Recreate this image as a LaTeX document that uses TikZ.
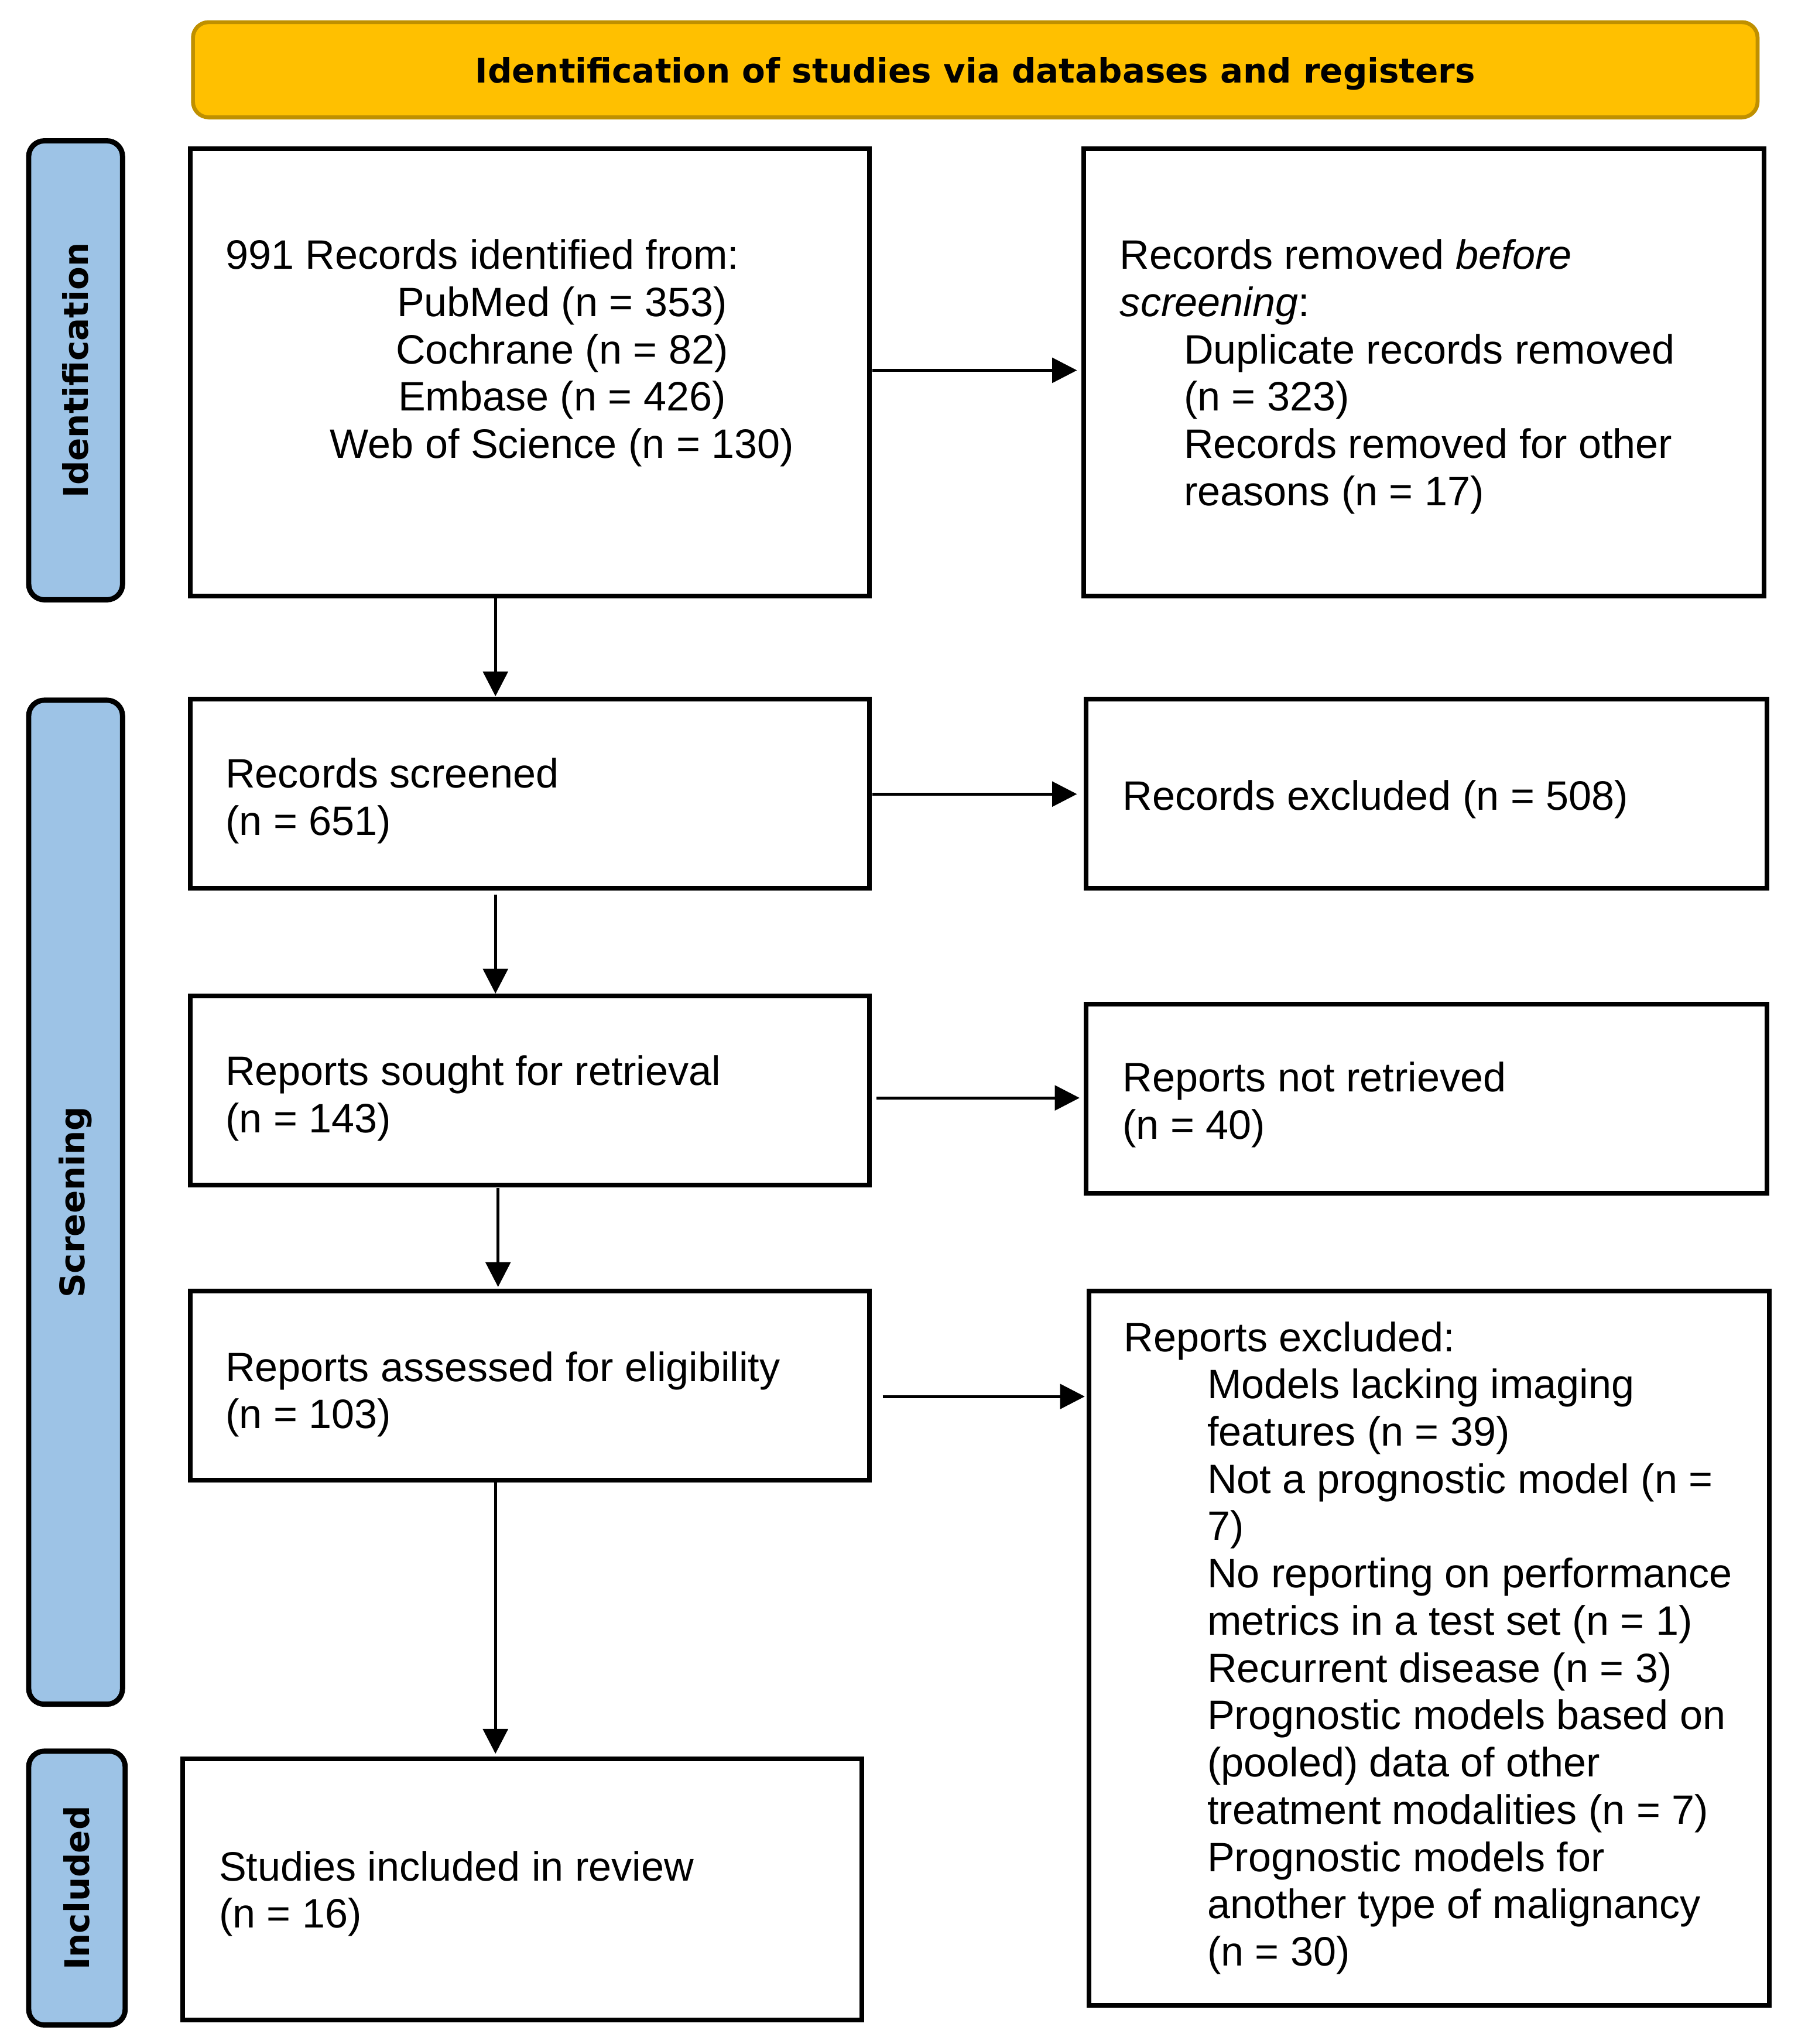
\documentclass[tikz,border=0pt]{standalone}
\usepackage{fontspec}
\setmainfont{Liberation Sans}
\newfontfamily\hdfont{DejaVu Sans}
\usetikzlibrary{arrows.meta}
\definecolor{bannerfill}{RGB}{255,192,0}
\definecolor{bannerdraw}{RGB}{191,144,0}
\definecolor{sidefill}{RGB}{157,195,230}
\begin{document}
\begin{tikzpicture}[x=0.5pt,y=-0.5pt,
  box/.style={draw=black,line width=1.8pt,inner sep=0pt,outer sep=0pt},
  sidebox/.style={draw=black,fill=sidefill,line width=2pt,rounded corners=6pt,inner sep=0pt,outer sep=0pt,rotate=90,font=\hdfont\bfseries\fontsize{13}{15}\selectfont},
  txt/.style={anchor=north west,inner sep=0pt,outer sep=0pt,align=left,font=\fontsize{15.75}{18.125}\selectfont},
  arr/.style={line width=1.1pt,-{Triangle[length=9.5pt,width=9.5pt]}}]
\useasboundingbox[fill=white] (0,0) rectangle (1379,1567.6);
% banner
\node[draw=bannerdraw,fill=bannerfill,line width=1.5pt,rounded corners=6pt,minimum width=600pt,minimum height=36.5pt,inner sep=0pt] (banner) at (748,53.5) {};
\node[inner sep=0pt,yshift=-1.5pt,font=\hdfont\bfseries\fontsize{13}{15}\selectfont] (bannertext) at (banner.center) {Identification of studies via databases and registers};
% side labels
\node[sidebox,minimum width=176pt,minimum height=36pt] (iden) at (58,284) {Identification};
\node[sidebox,minimum width=385pt,minimum height=36pt] (scrn) at (58,922) {Screening};
\node[sidebox,minimum width=105pt,minimum height=37pt] (incl) at (59,1448) {Included};
% boxes
\node[box,minimum width=260.5pt,minimum height=171.5pt] (box1) at (406.5,285.5) {};
\node[box,minimum width=261pt,minimum height=171.5pt] (rem) at (1092,285.5) {};
\node[box,minimum width=260.5pt,minimum height=72.5pt] (scr) at (406.5,608.5) {};
\node[box,minimum width=261pt,minimum height=72.5pt] (exc) at (1094,608.5) {};
\node[box,minimum width=260.5pt,minimum height=72.5pt] (sou) at (406.5,836.5) {};
\node[box,minimum width=261pt,minimum height=72.5pt] (nre) at (1094,842.5) {};
\node[box,minimum width=260.5pt,minimum height=72.5pt] (ass) at (406.5,1062.5) {};
\node[box,minimum width=261pt,minimum height=274pt] (rex) at (1096,1264) {};
\node[box,minimum width=260.5pt,minimum height=100pt] (inc) at (400.5,1449) {};
% texts
\node[txt] (t1) at (173,181) {\strut 991 Records identified from:\\
\makebox[258pt][c]{PubMed (n = 353)}\\
\makebox[258pt][c]{Cochrane (n = 82)}\\
\makebox[258pt][c]{Embase (n = 426)}\\
\makebox[258pt][c]{Web of Science (n = 130)}};
\node[txt] (t2) at (859,181) {\strut Records removed \textit{before}\\
\textit{screening}:\\
\hspace*{24.5pt}Duplicate records removed\\
\hspace*{24.5pt}(n = 323)\\
\hspace*{24.5pt}Records removed for other\\
\hspace*{24.5pt}reasons (n = 17)};
\node[txt] (t3) at (173,579) {\strut Records screened\\(n = 651)};
\node[txt] (t4) at (861,596) {\strut Records excluded (n = 508)};
\node[txt] (t5) at (173,807) {\strut Reports sought for retrieval\\(n = 143)};
\node[txt] (t6) at (861,812) {\strut Reports not retrieved\\(n = 40)};
\node[txt] (t7) at (173,1034) {\strut Reports assessed for eligibility\\(n = 103)};
\node[txt] (t8) at (862,1011) {\strut Reports excluded:\\
\hspace*{32pt}Models lacking imaging\\
\hspace*{32pt}features (n = 39)\\
\hspace*{32pt}Not a prognostic model (n =\\
\hspace*{32pt}7)\\
\hspace*{32pt}No reporting on performance\\
\hspace*{32pt}metrics in a test set (n = 1)\\
\hspace*{32pt}Recurrent disease (n = 3)\\
\hspace*{32pt}Prognostic models based on\\
\hspace*{32pt}(pooled) data of other\\
\hspace*{32pt}treatment modalities (n = 7)\\
\hspace*{32pt}Prognostic models for\\
\hspace*{32pt}another type of malignancy\\
\hspace*{32pt}(n = 30)};
\node[txt] (t9) at (168,1417) {\strut Studies included in review\\(n = 16)};
% connectors
\coordinate (dxa) at (380,0);
\coordinate (dxb) at (382,0);
\coordinate (ya) at (0,284);
\coordinate (yb) at (0,609);
\coordinate (yc) at (0,842);
\coordinate (yd) at (0,1071);
\draw[arr,shorten >=1pt] (box1.south -| dxa) -- (scr.north -| dxa);
\draw[arr,shorten <=2.5pt,shorten >=1pt] (scr.south -| dxa) -- (sou.north -| dxa);
\draw[arr,shorten <=1pt,shorten >=1.5pt] (sou.south -| dxb) -- (ass.north -| dxb);
\draw[arr,shorten <=1pt,shorten >=2pt] (ass.south -| dxa) -- (inc.north -| dxa);
\draw[arr,shorten <=1pt,shorten >=2.5pt] (box1.east |- ya) -- (rem.west |- ya);
\draw[arr,shorten <=1pt,shorten >=3.5pt] (scr.east |- yb) -- (exc.west |- yb);
\draw[arr,shorten <=2.5pt,shorten >=2.5pt] (sou.east |- yc) -- (nre.west |- yc);
\draw[arr,shorten <=5pt,shorten >=1.5pt] (ass.east |- yd) -- (rex.west |- yd);
\end{tikzpicture}
\end{document}
